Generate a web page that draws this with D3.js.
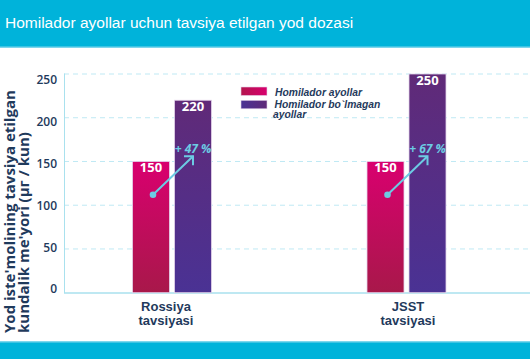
<!DOCTYPE html>
<html><head><meta charset="utf-8">
<script src="https://cdn.jsdelivr.net/npm/d3@7"></script>
<style>html,body{margin:0;padding:0;background:#fff;}svg{display:block;}</style>
</head><body>
<svg id="chart" width="530" height="359"></svg>
<script>
const title = "Homilador ayollar uchun tavsiya etilgan yod dozasi";
const categories = [["Rossiya", "tavsiyasi"], ["JSST", "tavsiyasi"]];
const categoryKeys = ["Rossiya", "JSST"];
const seriesNames = ["Homilador ayollar", "Homilador bo`lmagan ayollar"];
const pregnantValues = [150, 150];
const nonPregnantValues = [220, 250];
const increaseLabels = ["+ 47 %", "+ 67 %"];
const arrowFrom = [112, 112];
const arrowTo = [156, 156];
const yTicks = [0, 50, 100, 150, 200, 250];
const yTitle = ["Yod iste'molining tavsiya etilgan", "kundalik me'yori (μг / kun)"];

const svg = d3.select("#chart");
const navy = "#1f3a5c", cyan = "#00b3da", arrowCol = "#6ccbe3";

// defs / gradients
const defs = svg.append("defs");
function grad(id, c1, c2, vertical) {
  const g = defs.append("linearGradient").attr("id", id)
    .attr("x1", 0).attr("y1", 0).attr("x2", vertical ? 0 : 1).attr("y2", vertical ? 1 : 0);
  g.append("stop").attr("offset", "0%").attr("stop-color", c1);
  g.append("stop").attr("offset", "100%").attr("stop-color", c2);
}
grad("gPink", "#d9006f", "#a8184a", true);
grad("gPurple", "#602a78", "#4a3294", true);
grad("lPink", "#b3154d", "#d8006e", false);
grad("lPurple", "#4a3294", "#602a78", false);
const fills = ["url(#gPink)", "url(#gPurple)"];
const legendFills = ["url(#lPink)", "url(#lPurple)"];

// header & footer
svg.append("rect").attr("x", 0).attr("y", 0).attr("width", 530).attr("height", 47).attr("fill", cyan);
svg.append("rect").attr("x", 0).attr("y", 46.5).attr("width", 530).attr("height", 1.5).attr("fill", "#7fd6ec");
svg.append("text").attr("x", 5).attr("y", 28).attr("fill", "#fff")
  .attr("font-family", "Liberation Sans, Arial, sans-serif").attr("font-size", 15.5).text(title);
svg.append("rect").attr("x", 0).attr("y", 341.5).attr("width", 530).attr("height", 18).attr("fill", cyan);
svg.append("rect").attr("x", 0).attr("y", 341.5).attr("width", 530).attr("height", 1).attr("fill", "#7fd6ec");

// scales
const y = d3.scaleLinear().domain([0, 250]).range([292.7, 74]);
const yLab = d3.scaleLinear().domain([0, 250]).range([289, 80]);
const x0 = d3.scaleBand().domain(categoryKeys).range([54.75, 523.75]).paddingInner(0).paddingOuter(0);
const x1 = d3.scaleBand().domain([0, 1]).range([-39.5, 39.5]).paddingInner(5 / 42).paddingOuter(0);
const cx = k => x0(k) + x0.bandwidth() / 2;

// gridlines
svg.append("g").selectAll("line").data(yTicks.filter(d => d > 0)).join("line")
  .attr("x1", 64).attr("x2", 530).attr("y1", d => y(d)).attr("y2", d => y(d))
  .attr("stroke", "#bfe9f4").attr("stroke-width", 1).attr("stroke-dasharray", "5,4");

// axes lines
svg.append("line").attr("x1", 64.5).attr("x2", 64.5).attr("y1", 73.5).attr("y2", 293)
  .attr("stroke", "#a9e1ee").attr("stroke-width", 1);
svg.append("line").attr("x1", 64).attr("x2", 530).attr("y1", 293).attr("y2", 293)
  .attr("stroke", "#a9e1ee").attr("stroke-width", 1.5);

// y tick labels via axis
const yAxis = svg.append("g").attr("transform", "translate(57,0)")
  .call(d3.axisLeft(yLab).tickValues(yTicks).tickSize(0).tickPadding(0));
yAxis.select(".domain").remove();
yAxis.selectAll("text").attr("fill", navy).attr("font-family", "Open Sans, sans-serif")
  .attr("font-weight", 600).attr("font-size", 12);

// y title
const yt = svg.append("text").attr("transform", "rotate(-90)")
  .attr("fill", navy).attr("font-family", "Open Sans, sans-serif").attr("font-weight", 700).attr("font-size", 15);
yt.append("tspan").attr("x", -333).attr("y", 14.5).text(yTitle[0]);
yt.append("tspan").attr("x", -333).attr("y", 28.5).text(yTitle[1]);

// bars
const rows = categoryKeys.map((k, i) => ({ k, vals: [pregnantValues[i], nonPregnantValues[i]], i }));
const groups = svg.append("g").selectAll("g").data(rows).join("g")
  .attr("transform", d => `translate(${cx(d.k)},0)`);
groups.selectAll("rect").data(d => d.vals.map((v, j) => ({ v, j }))).join("rect")
  .attr("x", d => x1(d.j)).attr("width", x1.bandwidth())
  .attr("y", d => y(d.v)).attr("height", d => y(0) - y(d.v))
  .attr("fill", d => fills[d.j]).attr("stroke", "#e4d4ea").attr("stroke-width", 0.8);
groups.selectAll("text.val").data(d => d.vals.map((v, j) => ({ v, j }))).join("text")
  .attr("class", "val")
  .attr("x", d => x1(d.j) + x1.bandwidth() / 2).attr("y", d => y(d.v) + 11)
  .attr("text-anchor", "middle").attr("fill", "#fff")
  .attr("font-family", "Open Sans, sans-serif").attr("font-weight", 700).attr("font-size", 13)
  .text(d => d.v);

// arrows
groups.each(function (d) {
  const g = d3.select(this);
  const xa = x1(0) + x1.bandwidth() / 2 + 2, ya = y(arrowFrom[d.i]);
  const xb = x1(1) + x1.bandwidth() / 2, yb = y(arrowTo[d.i]);
  g.append("line").attr("x1", xa).attr("y1", ya).attr("x2", xb).attr("y2", yb)
    .attr("stroke", arrowCol).attr("stroke-width", 2);
  g.append("path").attr("d", `M${xb - 9},${yb} L${xb},${yb} L${xb},${yb + 9}`)
    .attr("fill", "none").attr("stroke", arrowCol).attr("stroke-width", 2);
  g.append("circle").attr("cx", xa).attr("cy", ya).attr("r", 3.3).attr("fill", arrowCol);
  g.append("text").attr("x", xb).attr("y", yb - 3.5).attr("text-anchor", "middle")
    .attr("fill", arrowCol).attr("font-family", "Open Sans, sans-serif").attr("font-weight", 700)
    .attr("font-style", "italic").attr("font-size", 12).text(increaseLabels[d.i]);
});

// category labels
const cl = svg.append("g").selectAll("text").data(categories).join("text")
  .attr("text-anchor", "middle").attr("fill", navy)
  .attr("font-family", "Liberation Sans, Arial, sans-serif").attr("font-weight", 700).attr("font-size", 13);
cl.each(function (d, i) {
  const t = d3.select(this);
  const xc = cx(categoryKeys[i]) + (i === 0 ? -6 : 1.5);
  t.append("tspan").attr("x", xc).attr("y", 311).text(d[0]);
  t.append("tspan").attr("x", xc).attr("y", 325).text(d[1]);
});

// legend
const lg = svg.append("g");
const legendLines = [["Homilador ayollar"], ["Homilador bo`lmagan", "ayollar"]];
lg.selectAll("rect").data(seriesNames).join("rect")
  .attr("x", 241).attr("y", (d, i) => 87 + i * 13.3).attr("width", 26).attr("height", 8.5)
  .attr("fill", (d, i) => legendFills[i]).attr("stroke", "#e4d4ea").attr("stroke-width", 0.6);
lg.selectAll("text").data(seriesNames).join("text")
  .attr("fill", navy).attr("font-family", "Liberation Sans, Arial, sans-serif")
  .attr("font-weight", 700).attr("font-style", "italic").attr("font-size", 10.3)
  .each(function (d, i) {
    const t = d3.select(this);
    legendLines[i].forEach((line, k) => {
      t.append("tspan").attr("x", i === 0 ? 275 : (k === 0 ? 274.5 : 273))
        .attr("y", (i === 0 ? 95.5 : 108) + k * 9.5).text(line);
    });
  });
</script>
</body></html>
